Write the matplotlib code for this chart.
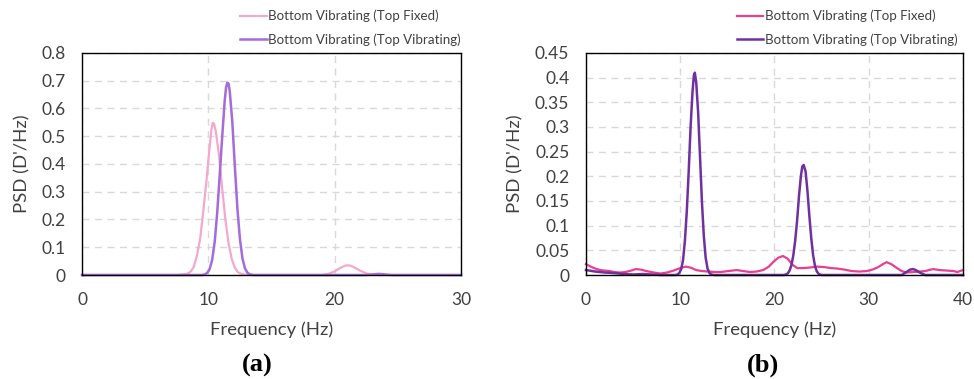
import matplotlib
matplotlib.use("Agg")
import matplotlib.pyplot as plt

# ---- Panel (a): PSD, 0-30 Hz ----
a_fixed_f = [0, 7.5, 8.0, 8.35, 8.6, 8.85, 9.1, 9.35, 9.6, 9.85, 10.1, 10.25, 10.35, 10.45, 10.6,
             10.85, 11.1, 11.35, 11.6, 11.85, 12.1, 12.35, 12.6, 13.0, 13.5, 19.0, 19.5, 20.0,
             20.5, 20.8, 21.0, 21.2, 21.5, 22.0, 22.5, 23.0, 23.5, 30]
a_fixed_psd = [0, 0, 0.002, 0.005, 0.012, 0.03, 0.07, 0.13, 0.23, 0.34, 0.46, 0.525, 0.548, 0.545,
               0.515, 0.43, 0.31, 0.2, 0.115, 0.058, 0.026, 0.01, 0.004, 0.001, 0, 0, 0.004,
               0.013, 0.027, 0.033, 0.035, 0.034, 0.029, 0.016, 0.006, 0.001, 0, 0]

a_vib_f = [0, 9.5, 9.7, 9.9, 10.1, 10.3, 10.5, 10.7, 10.9, 11.1, 11.3, 11.4, 11.5, 11.6, 11.7,
           11.9, 12.1, 12.3, 12.5, 12.7, 12.9, 13.1, 13.3, 13.6, 22.5, 23.0, 23.5, 24.0, 24.5, 30]
a_vib_psd = [0, 0, 0.002, 0.007, 0.021, 0.054, 0.118, 0.223, 0.36, 0.5, 0.63, 0.675, 0.693,
             0.69, 0.66, 0.55, 0.39, 0.24, 0.13, 0.06, 0.024, 0.008, 0.002, 0, 0, 0.002, 0.004,
             0.002, 0, 0]

# ---- Panel (b): PSD, 0-40 Hz ----
b_fixed_f = [0, 0.5, 1, 1.5, 2, 2.5, 3, 3.6, 4.2, 4.8, 5.3, 5.8, 6.4, 7.2, 7.9, 8.6, 9.3, 10,
             10.6, 11.1, 11.7, 12.3, 13, 13.7, 14.3, 15.1, 16, 16.7, 17.4, 18.1, 18.8, 19.4,
             19.9, 20.4, 20.9, 21.4, 21.9, 22.4, 23, 23.7, 24.5, 25.3, 26, 26.7, 27.4, 28.2,
             29, 29.8, 30.4, 31, 31.5, 31.9, 32.4, 33, 33.5, 34, 34.7, 35.4, 36, 36.8, 37.5,
             38.3, 39, 39.4, 40]
b_fixed_psd = [0.022, 0.017, 0.013, 0.010, 0.009, 0.008, 0.006, 0.005, 0.006, 0.009, 0.012,
               0.011, 0.008, 0.005, 0.003, 0.005, 0.009, 0.014, 0.017, 0.015, 0.01, 0.008,
               0.007, 0.006, 0.006, 0.008, 0.01, 0.008, 0.006, 0.007, 0.01, 0.017, 0.027,
               0.035, 0.0385, 0.033, 0.021, 0.014, 0.014, 0.015, 0.017, 0.016, 0.014, 0.013,
               0.011, 0.008, 0.007, 0.008, 0.011, 0.016, 0.022, 0.026, 0.022, 0.014, 0.008,
               0.005, 0.006, 0.007, 0.008, 0.012, 0.01, 0.009, 0.008, 0.006, 0.01]

b_vib_f = [0, 1, 2, 3, 4, 5, 6, 7, 8, 9.5, 9.7, 9.9, 10.1, 10.3, 10.5, 10.7, 10.9, 11.1, 11.3,
           11.45, 11.55, 11.7, 11.9, 12.1, 12.3, 12.5, 12.7, 12.9, 13.1, 13.3, 13.6, 21.0,
           21.2, 21.4, 21.6, 21.8, 22.0, 22.2, 22.4, 22.6, 22.8, 22.95, 23.1, 23.3, 23.5,
           23.7, 23.9, 24.1, 24.3, 24.5, 24.7, 25.0, 33.5, 34.0, 34.4, 34.7, 35.0, 35.5,
           36.0, 40]
b_vib_psd = [0.01, 0.007, 0.005, 0.004, 0.002, 0.001, 0.002, 0.001, 0, 0, 0.001, 0.004, 0.012,
             0.03, 0.07, 0.13, 0.21, 0.3, 0.37, 0.405, 0.41, 0.39, 0.33, 0.24, 0.15, 0.08,
             0.035, 0.013, 0.004, 0.001, 0, 0, 0.001, 0.003, 0.009, 0.02, 0.04, 0.07, 0.11,
             0.16, 0.2, 0.22, 0.223, 0.21, 0.17, 0.12, 0.075, 0.04, 0.018, 0.007, 0.002, 0,
             0, 0.006, 0.011, 0.012, 0.01, 0.004, 0, 0]

series_labels = ["Bottom Vibrating (Top Fixed)", "Bottom Vibrating (Top Vibrating)"]
a_yticks = [0, 0.1, 0.2, 0.3, 0.4, 0.5, 0.6, 0.7, 0.8]
b_yticks = [0, 0.05, 0.1, 0.15, 0.2, 0.25, 0.3, 0.35, 0.4, 0.45]

FONT = "Lato"
TXT = "#404040"
GRID = "#d9d9d9"

fig = plt.figure(figsize=(9.74, 3.79), dpi=100)
ax_a = fig.add_axes([0.0842, 0.2744, 0.3891, 0.5858])
ax_b = fig.add_axes([0.6016, 0.2744, 0.3871, 0.5858])


def fmt(v):
    s = f"{v:.2f}".rstrip("0").rstrip(".")
    return s


def style(ax, xmax, xstep, yticks, legend_x):
    ax.set_xlim(0, xmax)
    ax.set_ylim(0, yticks[-1])
    ax.set_xticks(range(0, xmax + 1, xstep))
    ax.set_yticks(yticks)
    ax.set_yticklabels([fmt(v) for v in yticks])
    ax.grid(True, color=GRID, linestyle=(0, (5, 4)), linewidth=1.0)
    ax.set_axisbelow(True)
    for sp in ax.spines.values():
        sp.set_color("black")
        sp.set_linewidth(1.0)
    ax.tick_params(axis="both", length=0, pad=12, labelsize=12.5, labelcolor=TXT)
    for lab in ax.get_xticklabels() + ax.get_yticklabels():
        lab.set_fontfamily(FONT)
    ax.set_xlabel("Frequency (Hz)", fontsize=13.3, color=TXT, family=FONT, labelpad=10)
    ax.set_ylabel("PSD (D'/Hz)", fontsize=13.3, color=TXT, family=FONT, labelpad=8)
    leg = ax.legend(loc="upper left", bbox_to_anchor=(legend_x, 0.978), bbox_transform=fig.transFigure,
                    frameon=False, prop={"family": FONT, "size": 9.6}, handlelength=2.0,
                    handletextpad=0.1, labelspacing=0.85, borderaxespad=0, borderpad=0.1)
    for t in leg.get_texts():
        t.set_color(TXT)


ax_a.plot(a_fixed_f, a_fixed_psd, color="#f5a8cd", lw=1.6, label=series_labels[0], clip_on=False)
ax_a.plot(a_vib_f, a_vib_psd, color="#a46bdb", lw=1.8, label=series_labels[1], clip_on=False)
style(ax_a, 30, 10, a_yticks, 0.245)

ax_b.plot(b_fixed_f, b_fixed_psd, color="#ea3e8f", lw=1.6, label=series_labels[0], clip_on=False)
ax_b.plot(b_vib_f, b_vib_psd, color="#7030a0", lw=1.8, label=series_labels[1], clip_on=False)
style(ax_b, 40, 10, b_yticks, 0.755)

fig.text(0.264, 0.02, "(a)", ha="center", va="baseline", family="Liberation Serif",
         weight="bold", fontsize=19)
fig.text(0.783, 0.02, "(b)", ha="center", va="baseline", family="Liberation Serif",
         weight="bold", fontsize=19)

fig.savefig("out.png", dpi=100)
